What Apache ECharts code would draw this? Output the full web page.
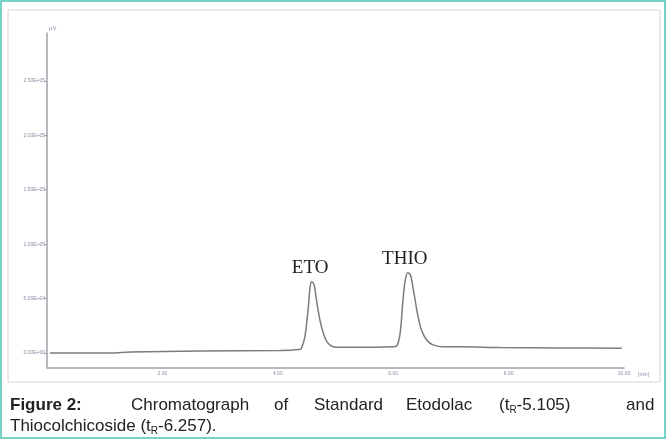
<!DOCTYPE html>
<html>
<head>
<meta charset="utf-8">
<script src="https://cdn.jsdelivr.net/npm/echarts@6/dist/echarts.min.js"></script>
<style>
  html, body { margin: 0; padding: 0; background: #fff; }
  #chart { width: 667px; height: 440px; }
</style>
</head>
<body>
<div id="chart"></div>
<script>
// retention time (min) and detector response (µV)
var times = [0.05, 1.09, 1.44, 2.65, 4.04, 4.38, 4.41, 4.47, 4.53, 4.56, 4.59, 4.63, 4.67, 4.73, 4.79, 4.85, 4.93, 5.02,
             5.42, 5.99, 6.06, 6.12, 6.16, 6.20, 6.25, 6.30, 6.36, 6.42, 6.49, 6.58, 6.69, 6.84, 7.16, 7.85, 8.89, 9.96];
var signal = [0, 0, 900, 1800, 2300, 3200, 4300, 15000, 42500, 60900, 65500, 62500, 48700, 30300, 18100, 10400, 6400, 5200,
              5200, 5800, 6400, 18100, 42500, 64000, 73800, 71700, 54900, 36500, 21100, 12000, 7400, 5800, 5800, 5000, 4600, 4300];
var yTicks = [0, 50000, 100000, 150000, 200000, 250000];
var xTicks = [2, 4, 6, 8, 10];
var peakNames = ['ETO', 'THIO'];
var peakTimes = [4.56, 6.20];
var peakHeights = [65500, 73800];

var chart = echarts.init(document.getElementById('chart'));

var lineData = times.map(function (t, i) { return [t, signal[i]]; });
var marks = peakNames.map(function (n, i) {
    return { name: n, coord: [peakTimes[i], peakHeights[i]], value: n };
});

function sci(v) {
    if (v === 0) return '0.00E+00';
    var e = Math.floor(Math.log10(v));
    var m = v / Math.pow(10, e);
    return m.toFixed(2) + 'E+' + (e < 10 ? '0' : '') + e;
}

var capFont = '17px "Liberation Sans"';
var subRich = { s: { fontSize: 10, fontFamily: 'Liberation Sans', verticalAlign: 'bottom', padding: [9, 0, 0, 0], fill: '#222' } };

chart.setOption({
    backgroundColor: '#ffffff',
    animation: false,
    grid: { left: 47, right: 43, top: 33, bottom: 72 },
    xAxis: {
        type: 'value',
        min: 0,
        max: 10,
        name: '[min]',
        nameLocation: 'end',
        nameGap: 14,
        nameTextStyle: { fontSize: 5, color: '#8a8aa0', verticalAlign: 'top', padding: [4, 0, 0, 0] },
        axisLine: { onZero: false, lineStyle: { color: '#a0a0a8', width: 1.5 } },
        axisTick: { show: false, customValues: xTicks },
        splitLine: { show: false },
        axisLabel: {
            customValues: xTicks,
            fontSize: 5,
            color: '#8a8aa0',
            margin: 3,
            formatter: function (v) { return v.toFixed(2); }
        }
    },
    yAxis: {
        type: 'value',
        min: -13800,
        max: 294000,
        name: 'µV',
        nameLocation: 'end',
        nameGap: 2,
        nameTextStyle: { fontSize: 6, color: '#8a8aa0', align: 'left', padding: [0, 0, 0, 2] },
        axisLine: { show: true, onZero: false, lineStyle: { color: '#a0a0a8', width: 1.5 } },
        axisTick: { show: true, customValues: yTicks, length: 3, lineStyle: { color: '#a0a0a8' } },
        splitLine: { show: false },
        axisLabel: {
            customValues: yTicks,
            fontSize: 5,
            color: '#8a8aa0',
            margin: 2,
            formatter: sci
        }
    },
    series: [{
        type: 'line',
        data: lineData,
        smooth: 0.3,
        showSymbol: false,
        lineStyle: { color: '#7c7c80', width: 1.5 },
        markPoint: {
            symbol: 'circle',
            symbolSize: 0,
            data: marks,
            label: {
                show: true,
                position: 'top',
                distance: 4,
                formatter: '{b}',
                fontFamily: 'Liberation Serif',
                fontSize: 19,
                color: '#222'
            }
        }
    }],
    graphic: [
        { type: 'rect', shape: { x: 1, y: 1, width: 664, height: 437 }, style: { fill: 'none', stroke: '#49c3b3', lineWidth: 1.5 }, silent: true },
        { type: 'rect', shape: { x: 8, y: 10, width: 652, height: 372 }, style: { fill: 'none', stroke: '#d8d4c8', lineWidth: 1 }, silent: true },
        { type: 'text', left: 10, top: 397, style: { text: 'Figure 2:', font: 'bold 17px "Liberation Sans"', fill: '#222' } },
        { type: 'text', left: 131, top: 397, style: { text: 'Chromatograph', font: capFont, fill: '#222' } },
        { type: 'text', left: 274, top: 397, style: { text: 'of', font: capFont, fill: '#222' } },
        { type: 'text', left: 314, top: 397, style: { text: 'Standard', font: capFont, fill: '#222' } },
        { type: 'text', left: 406, top: 397, style: { text: 'Etodolac', font: capFont, fill: '#222' } },
        { type: 'text', left: 499, top: 397, style: { text: '(t{s|R}-5.105)', font: capFont, fill: '#222', rich: subRich } },
        { type: 'text', left: 626, top: 397, style: { text: 'and', font: capFont, fill: '#222', align: 'left' } },
        { type: 'text', left: 10, top: 418, style: { text: 'Thiocolchicoside (t{s|R}-6.257).', font: capFont, fill: '#222', rich: subRich } }
    ]
});
</script>
</body>
</html>
